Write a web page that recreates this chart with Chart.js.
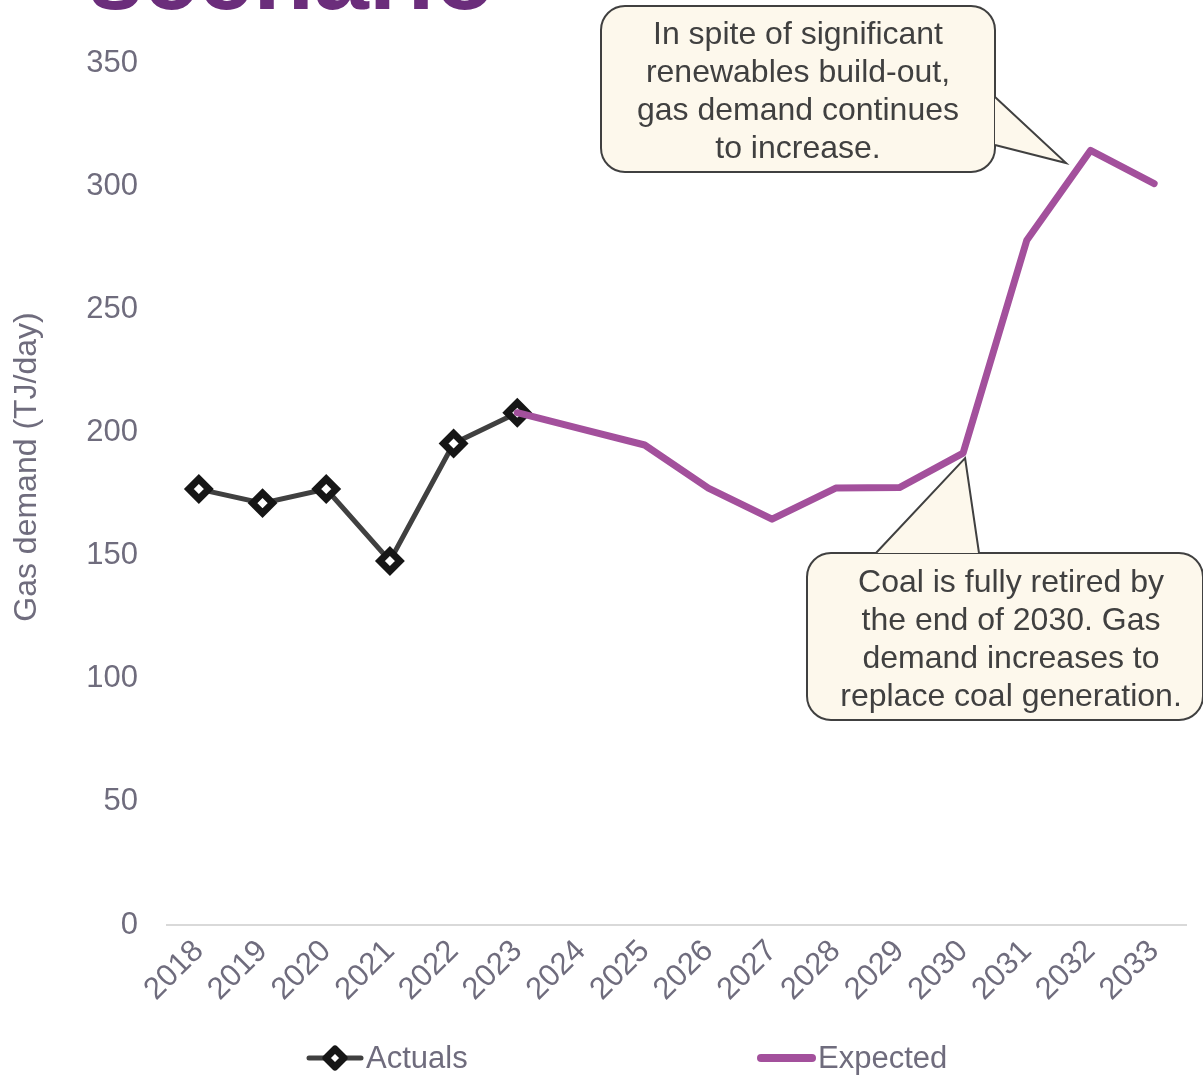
<!DOCTYPE html>
<html lang="en">
<head>
  <meta charset="UTF-8" />
  <title>Gas demand</title>
  <script src="https://cdn.jsdelivr.net/npm/chart.js"></script>
  <style>
    body { margin: 0; background: #ffffff; }
    .chart-box { position: relative; width: 1203px; height: 1081px; }
  </style>
</head>
<body>
  <div class="chart-box">
    <canvas id="gasChart"></canvas>
  </div>

  <script>
    const years = ['2018', '2019', '2020', '2021', '2022', '2023', '2024', '2025',
                   '2026', '2027', '2028', '2029', '2030', '2031', '2032', '2033'];
    const actuals = [177, 171.3, 177, 147.8, 195.5, 208, null, null,
                     null, null, null, null, null, null, null, null];
    const expected = [null, null, null, null, null, 208, 201.4, 194.9,
                      177.4, 164.8, 177.4, 177.6, 191.6, 278, 314.5, 301];
    const yTicks = [0, 50, 100, 150, 200, 250, 300, 350];

    const FONT = "'Liberation Sans', Arial, sans-serif";
    const GREY = '#6f6c7d';
    const TEXT = '#404040';

    // heading sits above the canvas, mostly cut off
    const headingPlugin = {
      id: 'heading',
      afterDraw(chart) {
        const ctx = chart.ctx;
        ctx.save();
        ctx.fillStyle = '#6b2d7b';
        ctx.font = 'bold 99px ' + FONT;
        ctx.textBaseline = 'alphabetic';
        ctx.fillText('scenario', 88, 9);
        ctx.restore();
      }
    };

    // y axis title, placed a little above the middle of the axis
    const yTitlePlugin = {
      id: 'yTitle',
      afterDraw(chart) {
        const ctx = chart.ctx;
        ctx.save();
        ctx.translate(27, 467);
        ctx.rotate(-Math.PI / 2);
        ctx.fillStyle = GREY;
        ctx.font = '32px ' + FONT;
        ctx.textAlign = 'center';
        ctx.textBaseline = 'middle';
        ctx.fillText('Gas demand (TJ/day)', 0, 0);
        ctx.restore();
      }
    };

    const roundRect = (ctx, x, y, w, h, r) => {
      ctx.beginPath();
      ctx.moveTo(x + r, y);
      ctx.arcTo(x + w, y, x + w, y + h, r);
      ctx.arcTo(x + w, y + h, x, y + h, r);
      ctx.arcTo(x, y + h, x, y, r);
      ctx.arcTo(x, y, x + w, y, r);
      ctx.closePath();
    };

    // callout boxes: rect, tail (base a, tip, base b), text lines
    const callout = (ctx, box, tail, lines, cx, firstY) => {
      ctx.save();
      ctx.fillStyle = '#fdf8ec';
      ctx.strokeStyle = '#404040';
      ctx.lineWidth = 2;
      roundRect(ctx, box.x, box.y, box.w, box.h, 24);
      ctx.fill();
      ctx.stroke();

      ctx.beginPath();
      ctx.moveTo(tail[0][0], tail[0][1]);
      ctx.lineTo(tail[1][0], tail[1][1]);
      ctx.lineTo(tail[2][0], tail[2][1]);
      ctx.closePath();
      ctx.fill();
      ctx.beginPath();
      ctx.moveTo(tail[0][0], tail[0][1]);
      ctx.lineTo(tail[1][0], tail[1][1]);
      ctx.lineTo(tail[2][0], tail[2][1]);
      ctx.stroke();

      ctx.fillStyle = TEXT;
      ctx.font = '32px ' + FONT;
      ctx.textAlign = 'center';
      ctx.textBaseline = 'middle';
      lines.forEach((t, i) => ctx.fillText(t, cx, firstY + i * 38));
      ctx.restore();
    };

    const calloutPlugin = {
      id: 'callouts',
      afterDatasetsDraw(chart) {
        const ctx = chart.ctx;
        const xs = chart.scales.x, ys = chart.scales.y;
        const i2030 = years.indexOf('2030');
        const tipX = xs.getPixelForValue(i2030) + 2;
        const tipY = ys.getPixelForValue(expected[i2030]) + 5;

        callout(ctx, { x: 601, y: 6, w: 394, h: 166 },
          [[995, 97], [1066, 163], [995, 145]],
          ['In spite of significant', 'renewables build-out,', 'gas demand continues', 'to increase.'],
          798, 35);

        callout(ctx, { x: 807, y: 553, w: 396, h: 167 },
          [[876, 553], [tipX, tipY], [979, 553]],
          ['Coal is fully retired by', 'the end of 2030. Gas', 'demand increases to', 'replace coal generation.'],
          1011, 583);
      }
    };

    // legend drawn by hand: line sample with marker, then label
    const legendPlugin = {
      id: 'sampleLegend',
      afterDraw(chart) {
        const ctx = chart.ctx;
        const y = 1058;
        ctx.save();
        ctx.lineCap = 'round';

        const a = chart.data.datasets[0];
        ctx.strokeStyle = a.borderColor;
        ctx.lineWidth = a.borderWidth;
        ctx.beginPath();
        ctx.moveTo(309, y);
        ctx.lineTo(361, y);
        ctx.stroke();
        ctx.beginPath();
        ctx.moveTo(335, y - 9);
        ctx.lineTo(344, y);
        ctx.lineTo(335, y + 9);
        ctx.lineTo(326, y);
        ctx.closePath();
        ctx.fillStyle = '#ffffff';
        ctx.fill();
        ctx.strokeStyle = a.pointBorderColor;
        ctx.lineWidth = 7;
        ctx.lineJoin = 'round';
        ctx.stroke();

        const e = chart.data.datasets[1];
        ctx.strokeStyle = e.borderColor;
        ctx.lineWidth = 8;
        ctx.beginPath();
        ctx.moveTo(761, y);
        ctx.lineTo(812, y);
        ctx.stroke();

        ctx.fillStyle = GREY;
        ctx.font = '31px ' + FONT;
        ctx.textBaseline = 'middle';
        ctx.fillText(a.label, 366, y + 1);
        ctx.fillText(e.label, 818, y + 1);
        ctx.restore();
      }
    };

    new Chart(document.getElementById('gasChart'), {
      type: 'line',
      data: {
        labels: years,
        datasets: [
          {
            label: 'Actuals',
            data: actuals,
            borderColor: '#404040',
            borderWidth: 5,
            pointStyle: 'rectRot',
            pointRadius: 10,
            pointBorderWidth: 7,
            pointBackgroundColor: '#ffffff',
            pointBorderColor: '#161616',
            order: 2
          },
          {
            label: 'Expected',
            data: expected,
            borderColor: '#a3509c',
            borderWidth: 7,
            borderCapStyle: 'round',
            borderJoinStyle: 'round',
            pointRadius: 0,
            order: 1
          }
        ]
      },
      options: {
        responsive: true,
        maintainAspectRatio: false,
        animation: false,
        layout: { padding: { top: 63, right: 10, left: 0, bottom: 0 } },
        plugins: {
          legend: { display: false },
          tooltip: { enabled: false }
        },
        scales: {
          x: {
            offset: true,
            grid: { display: false, drawTicks: false },
            border: { display: true, color: '#d9d9d9', width: 2 },
            ticks: {
              autoSkip: false,
              maxRotation: 45,
              minRotation: 45,
              padding: 8,
              color: GREY,
              font: { family: FONT, size: 31 }
            },
            afterFit(scale) { scale.height = 156; }
          },
          y: {
            min: 0,
            max: 350,
            afterBuildTicks(scale) { scale.ticks = yTicks.map(v => ({ value: v })); },
            grid: { display: false, drawTicks: false },
            border: { display: false },
            ticks: {
              padding: 29,
              color: GREY,
              font: { family: FONT, size: 31 }
            },
            afterFit(scale) { scale.width = 167; }
          }
        }
      },
      plugins: [headingPlugin, yTitlePlugin, calloutPlugin, legendPlugin]
    });
  </script>
</body>
</html>
